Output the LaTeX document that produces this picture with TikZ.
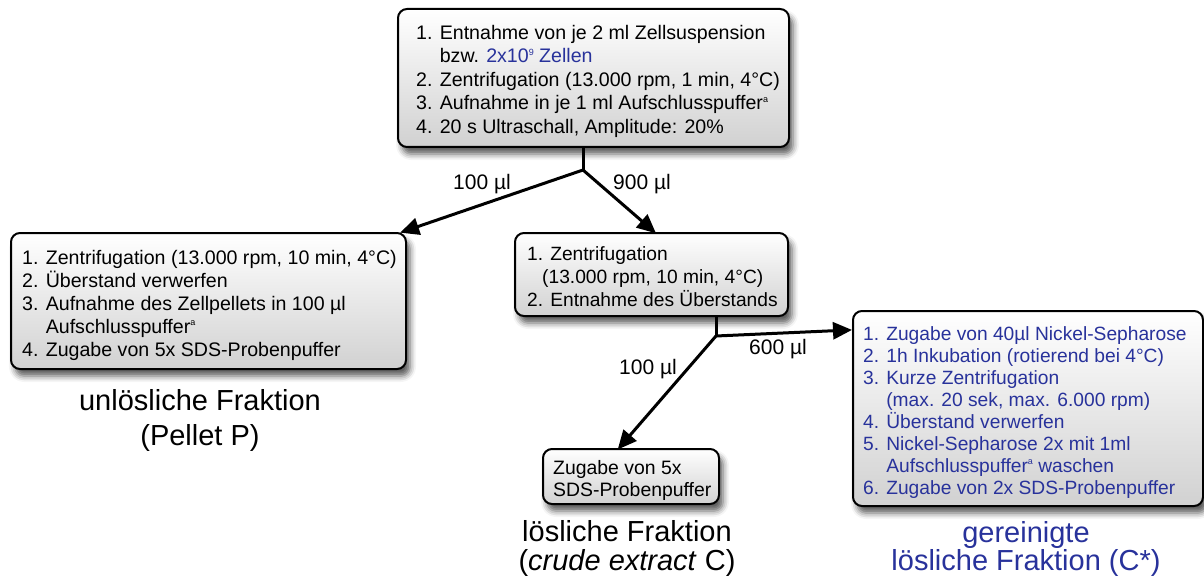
\documentclass[tikz,border=0pt]{standalone}
\usepackage{fontspec}
\setmainfont{Liberation Sans}
\usetikzlibrary{arrows.meta,calc,shadows.blur}
\definecolor{txtblue}{RGB}{40,50,155}
\newcommand{\sups}[1]{\raisebox{0.75ex}{\fontsize{9}{9}\selectfont #1}}
\begin{document}
\begin{tikzpicture}[x=1pt,y=-1pt,
  box/.style={draw=black, line width=2pt, rounded corners=9pt, anchor=north west,
    top color=white, bottom color=black!18, inner sep=0pt,
    blur shadow={shadow xshift=4pt, shadow yshift=-7pt, shadow blur radius=6pt, shadow opacity=65}},
  txt/.style={font=\fontsize{19.6}{23.5}\selectfont, align=left, inner sep=0pt, anchor=north west},
  big/.style={font=\fontsize{29}{35}\selectfont, align=center, inner sep=0pt},
  lbl/.style={font=\fontsize{21}{24}\selectfont, inner sep=0pt},
  conn/.style={line width=3pt},
  arr/.style={line width=3pt, -{Triangle[length=19pt,width=17pt]}, shorten >=-2pt}
]
\useasboundingbox (0,0) rectangle (1204,580);

% boxes
\node[box, minimum width=391pt, minimum height=138pt] (top) at (397,8) {};
\node[box, minimum width=395pt, minimum height=136pt] (left) at (10,232) {};
\node[box, minimum width=273pt, minimum height=83pt] (mid) at (514,232) {};
\node[box, minimum width=350pt, minimum height=195pt] (right) at (852,310) {};
\node[box, minimum width=176pt, minimum height=55pt] (bottom) at (542,448) {};

% box texts
\node[txt] (toptxt) at (416,25) {1. Entnahme von je 2 ml Zellsuspension\\
\phantom{1. }bzw. {\color{txtblue}2x10\sups{9} Zellen}\\
2. Zentrifugation (13.000 rpm, 1 min, 4°C)\\
3. Aufnahme in je 1 ml Aufschlusspuffer\sups{a}\\
4. 20 s Ultraschall, Amplitude: 20\%};

\node[txt, font=\fontsize{19.6}{23}\selectfont] (lefttxt) at (22,250) {1. Zentrifugation (13.000 rpm, 10 min, 4°C)\\
2. Überstand verwerfen\\
3. Aufnahme des Zellpellets in 100 µl\\
\phantom{3. }Aufschlusspuffer\sups{a}\\
4. Zugabe von 5x SDS-Probenpuffer};

\node[txt, font=\fontsize{19.2}{23}\selectfont] (midtxt) at (527,246) {1. Zentrifugation\\
\hspace{15pt}(13.000 rpm, 10 min, 4°C)\\
2. Entnahme des Überstands};

\node[txt, font=\fontsize{19.2}{22}\selectfont, text=txtblue] (righttxt) at (863,326) {1. Zugabe von 40µl Nickel-Sepharose\\
2. 1h Inkubation (rotierend bei 4°C)\\
3. Kurze Zentrifugation\\
\phantom{3. }(max. 20 sek, max. 6.000 rpm)\\
4. Überstand verwerfen\\
5. Nickel-Sepharose 2x mit 1ml\\
\phantom{5. }Aufschlusspuffer\sups{a} waschen\\
6. Zugabe von 2x SDS-Probenpuffer};

\node[txt, font=\fontsize{19.4}{22}\selectfont] (bottomtxt) at (553,460) {Zugabe von 5x\\
SDS-Probenpuffer};

% result labels
\node[big] (res1) at (200,420) {unlösliche Fraktion\\(Pellet P)};
\node[big, font=\fontsize{29}{29}\selectfont] (res2) at (627,548) {lösliche Fraktion\\(\textit{crude extract} C)};
\node[big, font=\fontsize{29}{28}\selectfont, text=txtblue] (res3) at (1026,549) {gereinigte\\lösliche Fraktion (C*)};

% connectors
\coordinate (j1) at (583,170);
\coordinate (j2) at (716,336);
\draw[conn] (top.south -| j1) -- (j1);
\draw[arr] (j1) -- ([xshift=-5pt]left.north east);
\draw[arr] (j1) -- ([xshift=3pt]mid.north);
\draw[conn] (mid.south -| j2) -- (j2);
\draw[arr] (j2) -- ($(right.north west)+(-2,20)$);
\draw[arr] (j2) -- ([xshift=-12pt]bottom.north);

% connector labels
\node[lbl] (l100a) at (482,184) {100 µl};
\node[lbl] (l900) at (642,184) {900 µl};
\node[lbl] (l600) at (778,349) {600 µl};
\node[lbl] (l100b) at (648,369) {100 µl};
\end{tikzpicture}
\end{document}
